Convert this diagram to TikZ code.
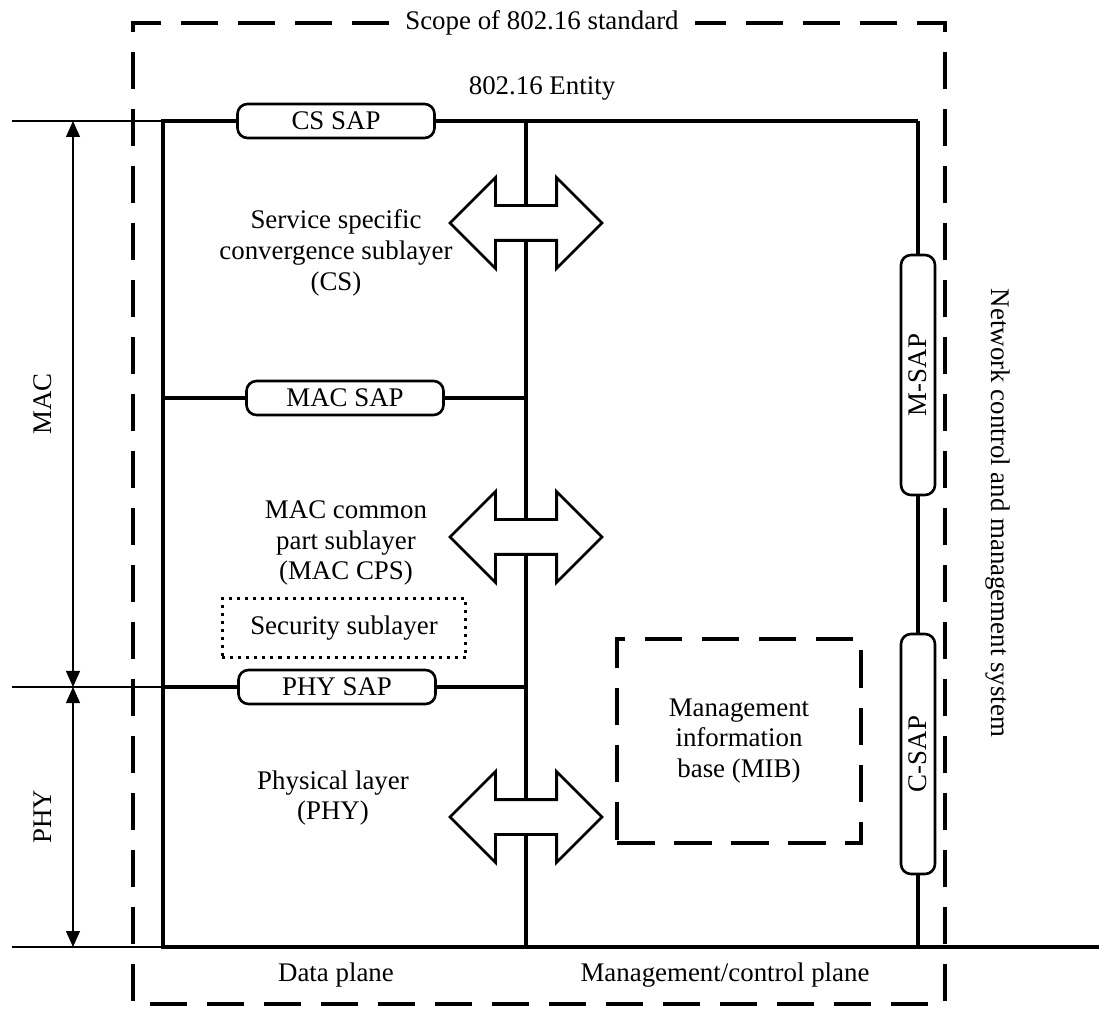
\documentclass[tikz,border=0pt]{standalone}
\usepackage{fontspec}
\setmainfont{Liberation Serif}
\usetikzlibrary{arrows.meta,shapes.arrows,positioning}
\tikzset{
  frame/.style={line width=2.4pt},
  rule/.style={line width=0.7pt},
  dimarrow/.style={rule,{Triangle[length=3.2mm,width=2.8mm]}-{Triangle[length=3.2mm,width=2.8mm]}},
  scopeline/.style={line width=2.8pt,dash pattern=on 7.5mm off 3.9mm},
  sap/.style={draw,fill=white,rounded corners=2mm,line width=1.5pt,minimum width=39.4mm,
    minimum height=6.8mm,inner sep=0pt},
  vsap/.style={sap,rotate=90,minimum width=48mm},
  biarrow/.style={double arrow,draw,fill=white,line width=1.6pt,minimum height=30.4mm,
    inner xsep=0pt,inner ysep=3.2mm,double arrow head extend=5.6mm},
  dotbox/.style={draw,line width=1.7pt,dash pattern=on 0.6mm off 1mm,minimum width=48.6mm,minimum height=11.8mm},
  mibbox/.style={draw,scopeline,align=center,minimum width=48.8mm,minimum height=40.8mm},
  txt/.style={align=center},
}
\begin{document}
\begin{tikzpicture}[x=0.2mm,y=-0.2mm,font=\fontsize{15.3}{17.6}\selectfont]
  \useasboundingbox (0,0) rectangle (1099,1009);

  % entity frame
  \coordinate (nw) at (163,121);
  \coordinate (ne) at (918,121);
  \coordinate (sw) at (163,947);
  \coordinate (se) at (918,947);
  \coordinate (mtop) at (526,121);
  \coordinate (mbot) at (526,947);
  \coordinate (macl) at (163,398);
  \coordinate (macr) at (526,398);
  \coordinate (phyl) at (163,687);
  \coordinate (phyr) at (526,687);
  \draw[frame] (ne) -- (nw) -- (sw) -- (1099,947);
  \draw[frame] (ne) -- (se);
  \draw[frame] (mtop) -- (mbot);
  \draw[frame] (macl) -- (macr);
  \draw[frame] (phyl) -- (phyr);

  % rulers on the left
  \coordinate (rtop) at (73,121);
  \coordinate (rmid) at (73,687);
  \coordinate (rbot) at (73,947);
  \draw[rule] (12,121) -- (nw);
  \draw[rule] (12,687) -- (phyl);
  \draw[rule] (12,947) -- (sw);
  \draw[dimarrow] (rtop) -- (rmid);
  \draw[dimarrow] (rmid) -- (rbot);
  \node[rotate=90] (maclbl) at (43,404) {MAC};
  \node[rotate=90] (phylbl) at (43,817) {PHY};

  % scope of the standard
  \node (scope) at (542,23) {Scope of 802.16 standard};
  \draw[scopeline] ([xshift=-2mm]scope.west) -- (133,23) |- (945,1004) -- (945,23) -- ([xshift=2mm]scope.east);
  \node (entity) at (542,88) {802.16 Entity};

  % service access points
  \node[sap] (cssap) at (336,121) {CS SAP};
  \node[sap] (macsap) at (345,398) {MAC SAP};
  \node[sap] (physap) at (337,687) {PHY SAP};
  \node[vsap] (msap) at (918,375) {M-SAP};
  \node[vsap] (csap) at (918,754) {C-SAP};

  % data plane
  \node[biarrow] (csarr) at (526,223) {};
  \node[biarrow] (cpsarr) at (526,537) {};
  \node[biarrow] (phyarr) at (526,817) {};
  \node[txt] (cs) at (336,253) {Service specific\\convergence sublayer\\(CS)};
  \node[txt] (cps) at (346,543) {MAC common\\part sublayer\\(MAC CPS)};
  \node[dotbox] (sec) at (344,628) {Security sublayer};
  \node[txt] (phy) at (333,798) {Physical layer\\(PHY)};

  % management plane
  \node[mibbox] (mib) at (739,741) {Management\\information\\base (MIB)};
  \node[rotate=-90] (ncms) at (998,513) {Network control and management system};

  \node (dplane) at (336,975) {Data plane};
  \node (mplane) at (725,975) {Management/control plane};
\end{tikzpicture}
\end{document}
